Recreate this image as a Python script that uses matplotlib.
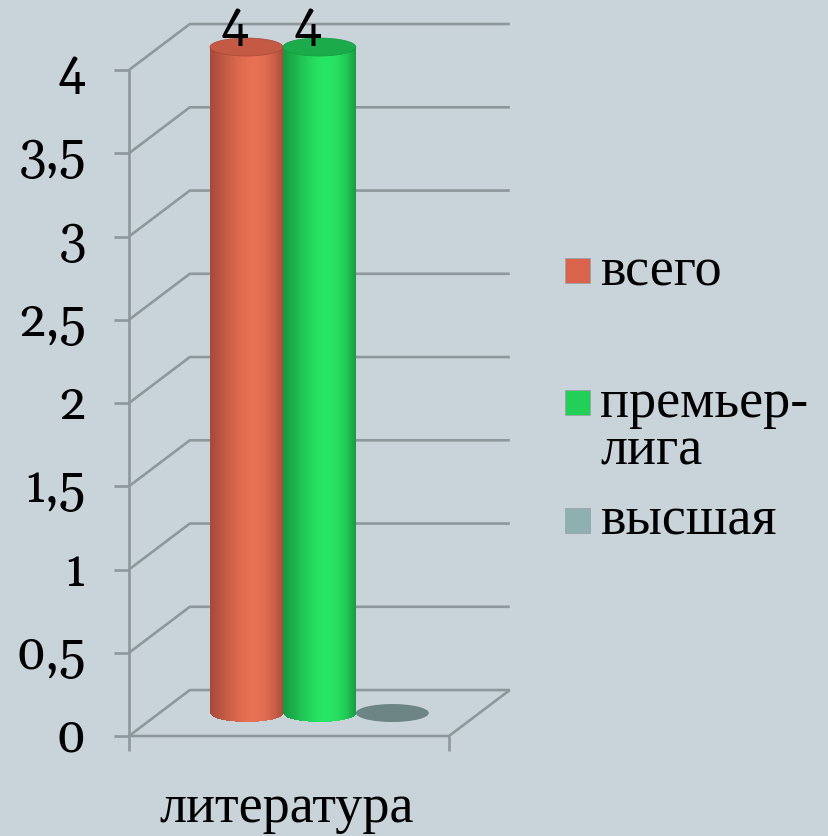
import numpy as np
import matplotlib
matplotlib.use("Agg")
import matplotlib.pyplot as plt
from matplotlib.patches import Ellipse, Rectangle
from matplotlib.colors import to_rgb

plt.rcParams["font.family"] = "serif"
plt.rcParams["font.serif"] = ["Liberation Serif", "DejaVu Serif"]

categories = ["литература"]
series_names = ["всего", "премьер-\nлига", "высшая"]
values = [4, 4, 0]
y_ticks = [0, 0.5, 1, 1.5, 2, 2.5, 3, 3.5, 4]
y_tick_labels = ["0", "0,5", "1", "1,5", "2", "2,5", "3", "3,5", "4"]

BG = "#c9d4da"
GRID = "#8e979c"
EDGE_COLORS = ["#a64a39", "#17983f", "#5d7676"]
LIGHT_COLORS = ["#e87053", "#27e665", "#7a9494"]
TOP_COLORS = ["#c55a44", "#1cab4b", "#6e8585"]
LEGEND_COLORS = ["#d9634b", "#22cf57", "#8fb0b0"]

W, H = 829, 837
DX, DY = 0.19, 0.276      # depth of the box (data units)
BAR_W = 0.228
CAP_H = 0.108
TXT = dict(family=["Liberation Serif", "DejaVu Serif"], fontsize=39, color="black")
NUM = dict(family=["Gelasio", "Liberation Serif"], fontsize=36, color="black")


def proj(x, y, depth):
    return x + depth * DX, y + depth * DY


def fmt(v):
    return str(int(v)) if float(v).is_integer() else str(v).replace(".", ",")


def shade(t, j):
    f = np.sin(np.pi * t ** 1.36) ** 0.8
    e, l = np.array(to_rgb(EDGE_COLORS[j])), np.array(to_rgb(LIGHT_COLORS[j]))
    return tuple(e + (l - e) * f)


fig = plt.figure(figsize=(W / 100, H / 100), dpi=100, facecolor=BG)
ax = fig.add_axes([129 / W, 100 / H, 320 / W, 666 / H])
ax.set_xlim(-0.5, len(categories) - 0.5)
ax.set_ylim(0, max(y_ticks))
ax.axis("off")

x_left, x_right = -0.5, len(categories) - 0.5
line_kw = dict(color=GRID, lw=1.9, clip_on=False, solid_capstyle="butt", zorder=1)

# walls: side diagonal + back horizontal for each tick
for v, lab in zip(y_ticks, y_tick_labels):
    xb, yb = proj(x_left, v, 1)
    xe, ye = proj(x_right, v, 1)
    ax.plot([x_left, xb, xe], [v, yb, ye], **line_kw)
    ax.plot([x_left - 0.047, x_left], [v, v], **line_kw)
    ax.annotate(lab, (x_left, v), xytext=(-43, -15), textcoords="offset pixels",
                ha="right", va="baseline", annotation_clip=False, **NUM)

# floor
xr, yr = proj(x_right, 0, 1)
ax.plot([x_left, x_right, xr], [0, 0, yr], **line_kw)
ax.plot([x_left, x_left], [0, max(y_ticks)], **line_kw)
for xt in [x_left, x_right]:
    ax.plot([xt, xt], [0, -0.09], **line_kw)

# cylinders
N = 80
for i, cat in enumerate(categories):
    ax.annotate(cat, (i, 0), xytext=(-2, -85), textcoords="offset pixels",
                ha="center", va="baseline", annotation_clip=False, **TXT)
    for j, v in enumerate(values):
        xc, y0 = proj(i + (j - 1) * BAR_W, 0, 0.5)
        if v > 0:
            edges = np.linspace(xc - BAR_W / 2, xc + BAR_W / 2, N + 1)
            sw = edges[1] - edges[0]
            for k in range(N):
                t = (k + 0.5) / N
                bottom = y0 - CAP_H / 2 * np.sqrt(max(0.0, 1 - (2 * t - 1) ** 2))
                w = sw * (1.6 if k < N - 1 else 1.0)
                ax.add_patch(Rectangle((edges[k], bottom), w, y0 + v - bottom,
                                       facecolor=shade(t, j), lw=0,
                                       zorder=3 + j, clip_on=False))
            ax.add_patch(Ellipse((xc, y0 + v), BAR_W, CAP_H, facecolor=TOP_COLORS[j],
                                 edgecolor=EDGE_COLORS[j], lw=0.5,
                                 zorder=3 + j, clip_on=False))
            ax.annotate(fmt(v), (xc, y0 + v), xytext=(-12, 10), textcoords="offset pixels",
                        ha="center", va="baseline", zorder=10,
                        annotation_clip=False, **NUM)
        else:
            ax.add_patch(Ellipse((xc, y0), BAR_W, CAP_H, facecolor=TOP_COLORS[j],
                                 lw=0, zorder=2, clip_on=False))

# legend
LEG_X = 565
LEG_BASELINES = [285, 417, 535]
LINE_STEP = 48
for j, name in enumerate(series_names):
    base = LEG_BASELINES[j]
    fig.patches.append(Rectangle((LEG_X / W, 1 - (base - 1) / H), 25 / W, 25 / H,
                                 facecolor=LEGEND_COLORS[j], edgecolor="#9aa4a8",
                                 lw=0.6, transform=fig.transFigure))
    for n, line in enumerate(name.split("\n")):
        fig.text((LEG_X + 35) / W, 1 - (base + n * LINE_STEP) / H, line,
                 ha="left", va="baseline", **TXT)

fig.savefig("out.png", dpi=100, facecolor=BG)
